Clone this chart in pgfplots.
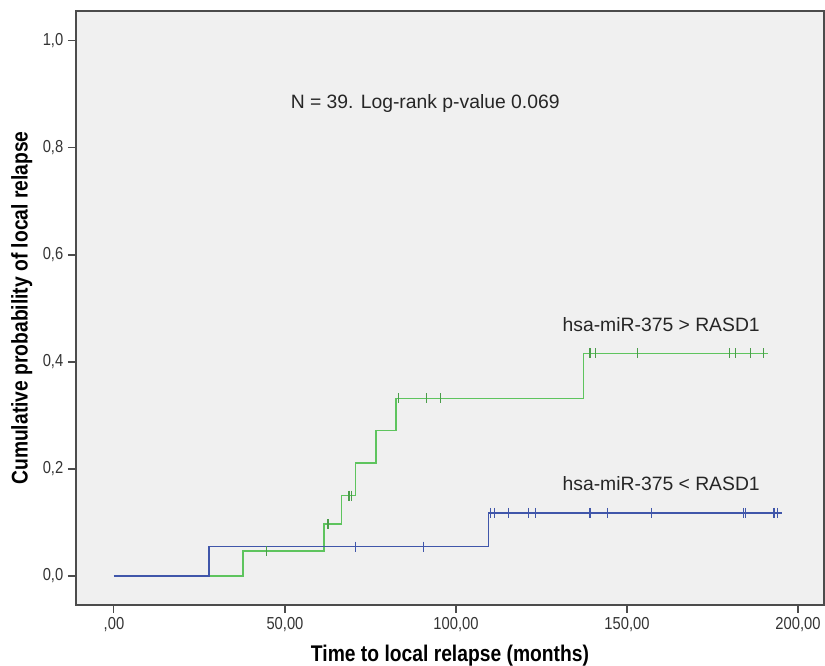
\documentclass[border=0pt]{standalone}
\usepackage{fontspec}
\setmainfont{Liberation Sans}
\newfontfamily\narrowfont[FakeStretch=0.85]{Liberation Sans}
\usepackage{pgfplots}
\pgfplotsset{compat=1.18}

\definecolor{spssgreen}{RGB}{94,196,94}
\definecolor{spssblue}{RGB}{64,86,170}
\definecolor{plotbg}{RGB}{240,240,240}

\begin{document}
\begin{tikzpicture}
\begin{axis}[
    width=561pt, height=445.5pt,
    scale only axis,
    xmin=-11.1, xmax=207.6,
    ymin=-0.0542, ymax=1.056,
    axis background/.style={fill=plotbg},
    axis line style={black!70, line width=0.9pt},
    clip=false,
    xtick={0,50,100,150,200},
    xticklabels={{,00},{50,00},{100,00},{150,00},{200,00}},
    ytick={0,0.2,0.4,0.6,0.8,1.0},
    yticklabels={{0,0},{0,2},{0,4},{0,6},{0,8},{1,0}},
    xtick pos=bottom, ytick pos=left,
    tick align=outside,
    major tick length=6pt,
    tick style={black!70, line width=0.8pt},
    tick label style={font=\narrowfont\fontsize{13}{15}\selectfont, text=black!80},
    xlabel={Time to local relapse (months)},
    ylabel={Cumulative probability of local relapse},
    label style={font=\narrowfont\bfseries\fontsize{17}{19}\selectfont},
    xlabel style={at={(axis description cs:0.5,-0.0845)}, anchor=center},
    ylabel style={at={(axis description cs:-0.0725,0.5)}, anchor=center},
]
% hsa-miR-375 > RASD1
\addplot[const plot, spssgreen, line width=1pt] coordinates {
    (0,0) (37.7,0.047) (61.4,0.097) (66.6,0.150) (70.6,0.211)
    (76.6,0.272) (82.5,0.332) (137.2,0.416) (191.2,0.416)};
\addplot[only marks, mark=|, mark size=3.75pt, spssgreen!80!black, mark options={line width=0.9pt}] coordinates {
    (44.7,0.047) (62.6,0.097) (68.7,0.150) (69.5,0.150)
    (83.3,0.332) (91.4,0.332) (95.5,0.332)
    (139.2,0.416) (140.9,0.416) (153.1,0.416) (179.9,0.416)
    (181.8,0.416) (186.0,0.416) (189.9,0.416)};
% hsa-miR-375 < RASD1
\addplot[const plot, spssblue, line width=1pt] coordinates {
    (0,0) (27.8,0.055) (109.5,0.118) (195.2,0.118)};
\addplot[only marks, mark=|, mark size=3.75pt, spssblue, mark options={line width=0.9pt}] coordinates {
    (70.7,0.055) (90.5,0.055)
    (110.0,0.118) (111.3,0.118) (115.4,0.118) (121.3,0.118) (123.3,0.118)
    (139.2,0.118) (144.2,0.118) (157.1,0.118) (184.0,0.118) (184.7,0.118)
    (193.0,0.118) (194.0,0.118)};
\node[font=\fontsize{14.5}{16}\selectfont, text=black!85] at (axis cs:91,0.884) {N = 39. Log-rank p-value 0.069};
\node[font=\fontsize{14.5}{16}\selectfont, text=black!85] at (axis cs:160,0.469) {hsa-miR-375 > RASD1};
\node[font=\fontsize{14.5}{16}\selectfont, text=black!85] at (axis cs:160,0.172) {hsa-miR-375 < RASD1};
\end{axis}
\pgfresetboundingbox
\path ([shift={(-57pt,-45.75pt)}]current axis.south west) rectangle ([shift={(0.75pt,8.25pt)}]current axis.north east);
\end{tikzpicture}
\end{document}
